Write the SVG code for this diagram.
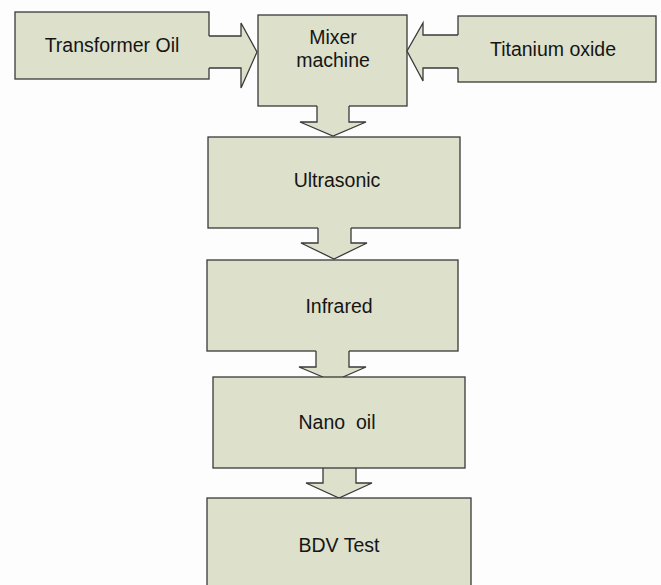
<svg xmlns="http://www.w3.org/2000/svg" width="661" height="585" viewBox="0 0 661 585">
<style>
.box{fill:#DDE0CA;stroke:#3a3a3a;stroke-width:1.3}
.af{fill:#DDE0CA;stroke:none}
.as{fill:none;stroke:#3a3a3a;stroke-width:1.3;stroke-linejoin:miter}
text{font-family:"Liberation Sans",Arial,sans-serif;font-size:19.5px;fill:#151515;text-anchor:middle}
</style>
<rect width="661" height="585" fill="#fdfdfd"/>
<g id="transformer-oil"><rect class="box" x="15" y="12" width="194" height="67"/><text x="112" y="52">Transformer Oil</text></g>
<g id="mixer-machine"><rect class="box" x="258" y="15" width="149" height="91"/><text x="333" y="44">Mixer</text><text x="333" y="67">machine</text></g>
<g id="titanium-oxide"><rect class="box" x="458" y="16" width="198" height="66"/><text x="553" y="56">Titanium oxide</text></g>
<g id="ultrasonic"><rect class="box" x="208" y="137" width="252" height="91"/><text x="337" y="187">Ultrasonic</text></g>
<g id="infrared"><rect class="box" x="207" y="260" width="251" height="91"/><text x="339" y="313">Infrared</text></g>
<g id="connectors">
<polygon class="af" points="207,36 241,36 241,23 257,52 241,88 241,68 207,68"/>
<polyline class="as" points="209,36 241,36 241,23 257,52 241,88 241,68 209,68"/>
<polygon class="af" points="460,35 423,35 423,23 407,51 423,81 423,68 460,68"/>
<polyline class="as" points="458,35 423,35 423,23 407,51 423,81 423,68 458,68"/>
<polygon class="af" points="317,104 317,122 300,122 333,136 366,122 349,122 349,104"/>
<polyline class="as" points="317,106 317,122 300,122 333,136 366,122 349,122 349,106"/>
<polygon class="af" points="318,226 318,243 301,243 334,259 367,243 351,243 351,226"/>
<polyline class="as" points="318,228 318,243 301,243 334,259 367,243 351,243 351,228"/>
<polygon class="af" points="316,349 316,367 299,367 323,378 343,378 366,367 349,367 349,349"/>
<polyline class="as" points="316,351 316,367 299,367 323,377"/>
<polyline class="as" points="343,377 366,367 349,367 349,351"/>
<polygon class="af" points="323,466 323,483 306,483 339,498 372,483 356,483 356,466"/>
<polyline class="as" points="323,468 323,483 306,483 339,498 372,483 356,483 356,468"/>
</g>
<g id="nano-oil"><rect class="box" x="213" y="377" width="252" height="91"/><text x="337" y="429" xml:space="preserve">Nano  oil</text></g>
<g id="bdv-test"><rect class="box" x="207" y="498" width="264" height="92"/><text x="339" y="552">BDV Test</text></g>
</svg>
